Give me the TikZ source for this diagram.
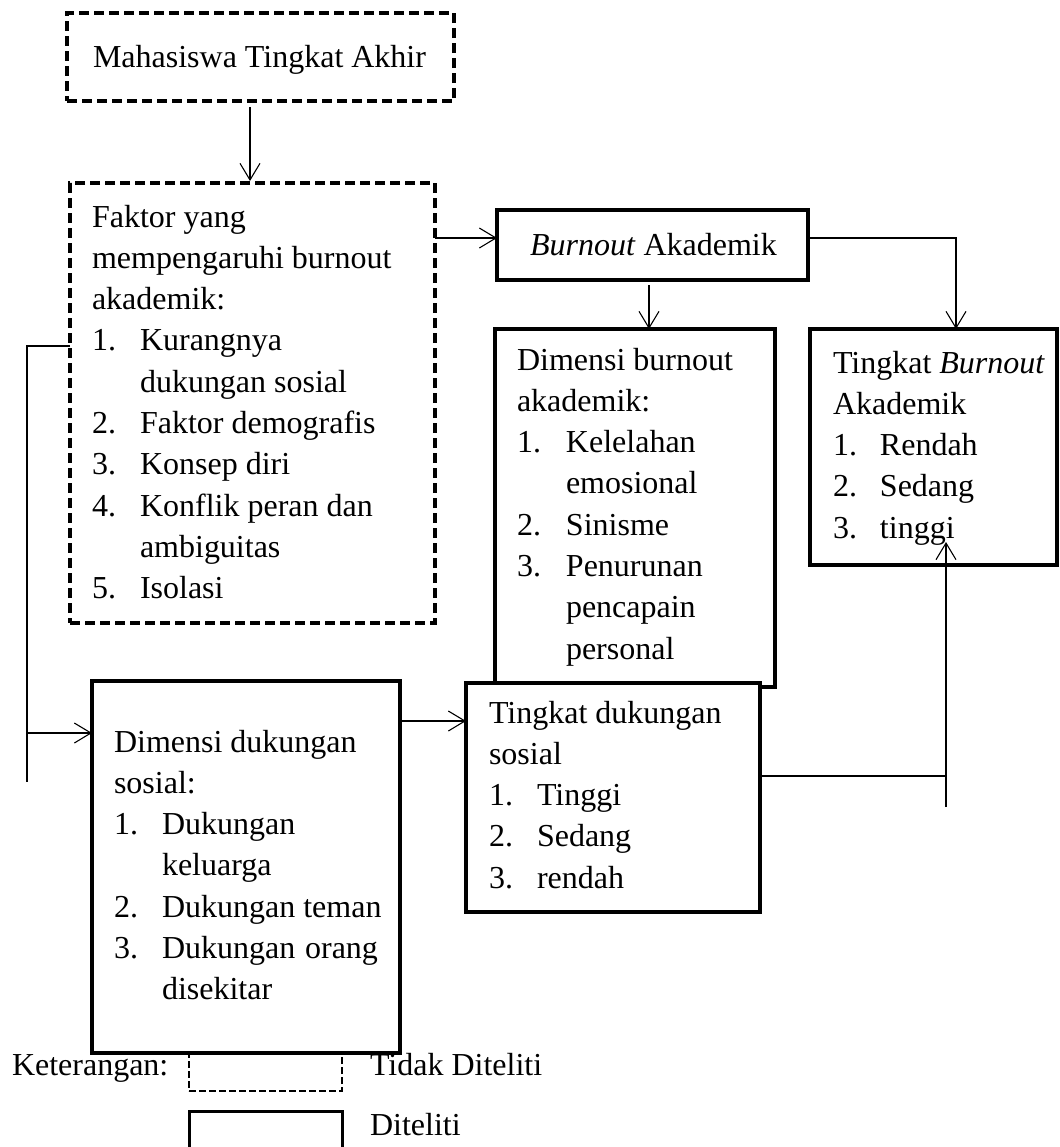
\documentclass[tikz,border=0pt]{standalone}
\usepackage{fontspec}
\setmainfont{Liberation Serif}
\usetikzlibrary{arrows.meta,fit}
\newcommand{\fsz}{\fontsize{16}{20.65}\selectfont}
\begin{document}
\begin{tikzpicture}[x=0.5pt,y=-0.5pt,
  solidbox/.style={draw, line width=1.9pt, fill=white, inner sep=0pt, outer sep=0pt},
  dashbox/.style={draw, line width=1.7pt, dash pattern=on 5pt off 2.5pt, inner sep=0pt, outer sep=0pt},
  legdash/.style={draw, line width=1.1pt, dash pattern=on 3.3pt off 1.7pt, inner sep=0pt, outer sep=0pt},
  conn/.style={line width=0.55pt},
  arr/.style={conn, -{Straight Barb[length=8.3pt,width=10pt]}},
  txt/.style={anchor=base west, inner sep=0pt, outer sep=0pt, font=\fsz},
]
\useasboundingbox (0,0) rectangle (1060,1147);

% boxes
\node[dashbox, fit={(67,13) (454,101)}] (box1) {};
\node[dashbox, fit={(70,183) (435,623)}] (box2) {};
\node[solidbox, fit={(497,210) (808,280)}] (burn) {};
\node[solidbox, fit={(495,329) (775,687)}] (dimb) {};
\node[solidbox, fit={(810,329) (1057,565)}] (tb) {};
\node[solidbox, fit={(92,681) (400,1053)}] (dimd) {};
\node[solidbox, fit={(466,683) (760,912)}] (td) {};
\node[legdash, fit={(189,1054) (342,1091)}] (legd) {};

% texts
\node[txt] (t1) at (93,67) {Mahasiswa Tingkat Akhir};
\node[txt] (t2) at (92,227) {\begin{tabular}[t]{@{}p{24pt}@{}l@{}}
\multicolumn{2}{@{}l@{}}{Faktor yang}\\
\multicolumn{2}{@{}l@{}}{mempengaruhi burnout}\\
\multicolumn{2}{@{}l@{}}{akademik:}\\
1. & Kurangnya\\
   & dukungan sosial\\
2. & Faktor demografis\\
3. & Konsep diri\\
4. & Konflik peran dan\\
   & ambiguitas\\
5. & Isolasi
\end{tabular}};
\node[txt] (t3) at (530,255) {\textit{Burnout} Akademik};
\node[txt] (t4) at (517,370) {\begin{tabular}[t]{@{}p{24.5pt}@{}l@{}}
\multicolumn{2}{@{}l@{}}{Dimensi burnout}\\
\multicolumn{2}{@{}l@{}}{akademik:}\\
1. & Kelelahan\\
   & emosional\\
2. & Sinisme\\
3. & Penurunan\\
   & pencapain\\
   & personal
\end{tabular}};
\node[txt] (t5) at (833,373) {\begin{tabular}[t]{@{}p{23.5pt}@{}l@{}}
\multicolumn{2}{@{}l@{}}{Tingkat \textit{Burnout}}\\
\multicolumn{2}{@{}l@{}}{Akademik}\\
1. & Rendah\\
2. & Sedang\\
3. & tinggi
\end{tabular}};
\node[txt] (t6) at (114,752) {\begin{tabular}[t]{@{}p{24pt}@{}l@{}}
\multicolumn{2}{@{}l@{}}{Dimensi dukungan}\\
\multicolumn{2}{@{}l@{}}{sosial:}\\
1. & Dukungan\\
   & keluarga\\
2. & Dukungan teman\\
3. & \makebox[108pt][s]{Dukungan orang}\\
   & disekitar
\end{tabular}};
\node[txt] (t7) at (489,723) {\begin{tabular}[t]{@{}p{24pt}@{}l@{}}
\multicolumn{2}{@{}l@{}}{Tingkat dukungan}\\
\multicolumn{2}{@{}l@{}}{sosial}\\
1. & Tinggi\\
2. & Sedang\\
3. & rendah
\end{tabular}};
\node[txt] (k1) at (12,1075) {Keterangan:};
\node[txt] (k2) at (370,1075) {Tidak Diteliti};
\node[txt] (k3) at (370,1135) {Diteliti};

% legend solid box (cut by page edge)
\draw[line width=1.5pt] (189,1150) -- (189,1111) -- (342,1111) -- (342,1150);

% helper coordinates
\coordinate (xA) at (250,0);
\coordinate (xB) at (649,0);
\coordinate (xC) at (956,0);
\coordinate (yA) at (0,238);
\coordinate (pL1) at (27,346);
\coordinate (pL2) at (27,782);
\coordinate (pL3) at (27,733);
\coordinate (yH) at (0,721);
\coordinate (yG) at (0,776);
\coordinate (pR1) at (946,776);
\coordinate (pR2) at (946,807);
\coordinate (pR3) at (946,542);

% connectors
\draw[arr] ([yshift=-3pt]box1.south -| xA) -- ([yshift=1pt]box2.north -| xA);
\draw[arr] (box2.east |- yA) -- (burn.west |- yA);
\draw[arr] ([yshift=-2.5pt]burn.south -| xB) -- (dimb.north -| xB);
\draw[arr] (burn.east |- yA) -| (tb.north -| xC);
\draw[conn] (box2.west |- pL1) -- (pL1) -- (pL2);
\draw[arr] (pL3) -- (dimd.west |- pL3);
\draw[arr] (dimd.east |- yH) -- (td.west |- yH);
\draw[conn] (td.east |- yG) -- (pR1);
\draw[arr] (pR2) -- (pR3);
\end{tikzpicture}
\end{document}
